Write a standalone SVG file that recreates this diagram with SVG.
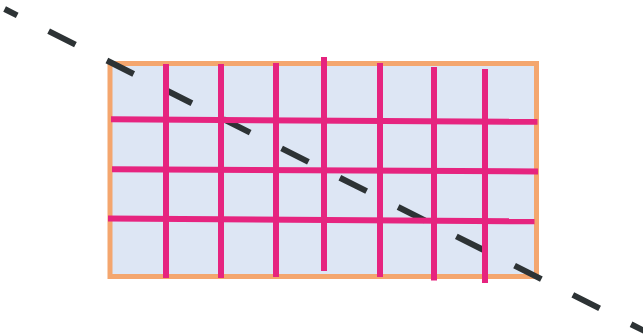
<svg xmlns="http://www.w3.org/2000/svg" width="643" height="335" viewBox="0 0 643 335">
<style>
.grid line{stroke:#e6247f;stroke-width:6;stroke-linecap:butt}
.cut{stroke:#2d3335;stroke-width:6;stroke-dasharray:30 35.2;stroke-dashoffset:15.9;fill:none}
</style>
<rect width="643" height="335" fill="#ffffff"/>
<g id="panel">
<rect x="110" y="63.5" width="426.5" height="213" fill="#dde6f4" stroke="#f4a66e" stroke-width="5"/>
</g>
<g id="connectors">
<line class="cut" x1="4.6" y1="9" x2="660" y2="338.8"/>
</g>
<g id="grid" class="grid">
<line x1="166" y1="64" x2="166" y2="278"/>
<line x1="221" y1="64" x2="221" y2="278"/>
<line x1="276" y1="63" x2="276" y2="277"/>
<line x1="324" y1="57" x2="324" y2="271"/>
<line x1="380" y1="63" x2="380" y2="277"/>
<line x1="434" y1="67" x2="434" y2="280.5"/>
<line x1="485" y1="69" x2="485" y2="283"/>
<line x1="111" y1="119.3" x2="537.5" y2="121.8"/>
<line x1="112" y1="169.3" x2="538" y2="171.5"/>
<line x1="108" y1="218.6" x2="534.5" y2="221.3"/>
</g>
</svg>
